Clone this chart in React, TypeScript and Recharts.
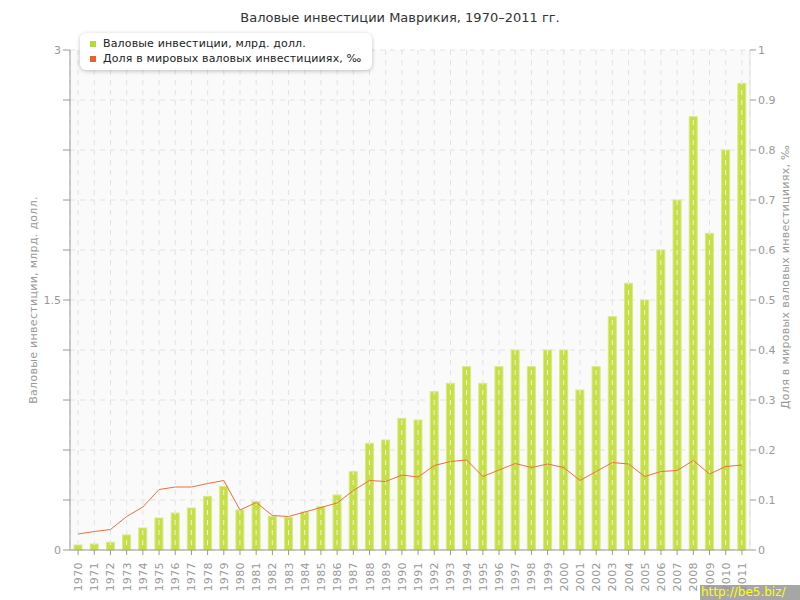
import {
  Bar,
  CartesianGrid,
  ComposedChart,
  Line,
  XAxis,
  YAxis,
} from "recharts";

const YEARS = [
  1970, 1971, 1972, 1973, 1974, 1975, 1976, 1977, 1978, 1979,
  1980, 1981, 1982, 1983, 1984, 1985, 1986, 1987, 1988, 1989,
  1990, 1991, 1992, 1993, 1994, 1995, 1996, 1997, 1998, 1999,
  2000, 2001, 2002, 2003, 2004, 2005, 2006, 2007, 2008, 2009,
  2010, 2011,
];

// валовые инвестиции, млрд. долл.
const INVESTMENT = [
  0.03, 0.036, 0.046, 0.09, 0.132, 0.192, 0.222, 0.252, 0.322, 0.382,
  0.24, 0.29, 0.202, 0.196, 0.228, 0.26, 0.33, 0.47, 0.64, 0.66,
  0.79, 0.78, 0.95, 1.0, 1.1, 1.0, 1.1, 1.2, 1.1, 1.2,
  1.2, 0.96, 1.1, 1.4, 1.6, 1.5, 1.8, 2.1, 2.6, 1.9,
  2.4, 2.8,
];

// доля в мировых валовых инвестициях, ‰
const WORLD_SHARE = [
  0.032, 0.037, 0.041, 0.067, 0.086, 0.121, 0.126, 0.126, 0.133, 0.139,
  0.08, 0.095, 0.069, 0.067, 0.076, 0.085, 0.094, 0.119, 0.139, 0.137,
  0.15, 0.146, 0.169, 0.177, 0.18, 0.147, 0.16, 0.173, 0.165, 0.172,
  0.165, 0.139, 0.157, 0.175, 0.172, 0.147, 0.157, 0.159, 0.179, 0.152,
  0.167, 0.17,
];

const LEFT_TICKS = [0, 0.3, 0.6, 0.9, 1.2, 1.5, 1.8, 2.1, 2.4, 2.7, 3];
const LEFT_LABELED = [0, 1.5, 3];
const RIGHT_TICKS = [0, 0.1, 0.2, 0.3, 0.4, 0.5, 0.6, 0.7, 0.8, 0.9, 1];

const TITLE = "Валовые инвестиции Маврикия, 1970–2011 гг.";
const BAR_NAME = "Валовые инвестиции, млрд. долл.";
const LINE_NAME = "Доля в мировых валовых инвестицииях, ‰";
const LEFT_TITLE = "Валовые инвестиции, млрд. долл.";
const RIGHT_TITLE = "Доля в мировых валовых инвестицииях, ‰";

const FONT = "'DejaVu Sans', Verdana, sans-serif";
const BAR_COLOR = "#c5df45";
const LINE_COLOR = "#e9713d";
const AXIS_COLOR = "#999";

const data = YEARS.map((year, i) => ({
  year: String(year),
  invest: INVESTMENT[i],
  share: WORLD_SHARE[i],
}));

// столбик + пунктир сетки поверх него
function BarShape(props: any) {
  const { x, y, width, height, background } = props;
  if (!height || height <= 0) return null;
  const top = background ? background.y : 50;
  const cx = x + width / 2;
  return (
    <g>
      <rect x={x} y={y} width={width} height={height} fill={BAR_COLOR} stroke="#d7ea86" strokeWidth={1} />
      <line
        x1={cx}
        x2={cx}
        y1={y}
        y2={y + height}
        stroke="#eef4d2"
        strokeWidth={1}
        strokeDasharray="5 5"
        strokeDashoffset={y - top}
      />
    </g>
  );
}

function YearTick(props: any) {
  const { x, y, payload } = props;
  return (
    <text
      transform={`translate(${x + 4}, ${y + 5}) rotate(-90)`}
      textAnchor="end"
      fontSize={11}
      fontFamily={FONT}
      letterSpacing={0.4}
      fill={AXIS_COLOR}
    >
      {payload.value}
    </text>
  );
}

function LegendBox() {
  const items = [
    { name: BAR_NAME, color: "#b5d935" },
    { name: LINE_NAME, color: "#e8602c" },
  ];
  return (
    <div
      style={{
        position: "absolute",
        left: 80,
        top: 33,
        background: "#fff",
        borderRadius: 6,
        boxShadow: "0 1px 4px rgba(0,0,0,0.25)",
        padding: "3px 10px 4px 10px",
        fontFamily: FONT,
        fontSize: 11,
        letterSpacing: 0.15,
        color: "#222",
        lineHeight: "15px",
      }}
    >
      {items.map((it) => (
        <div key={it.name} style={{ display: "flex", alignItems: "center" }}>
          <span
            style={{ width: 6, height: 6, background: it.color, marginRight: 7, display: "inline-block" }}
          />
          {it.name}
        </div>
      ))}
    </div>
  );
}

export default function App() {
  return (
    <div style={{ position: "absolute", left: 0, top: 0, width: 800, height: 600, background: "#fff" }}>
      <ComposedChart
        width={800}
        height={600}
        data={data}
        margin={{ top: 50, right: 0, bottom: 0, left: 0 }}
        barCategoryGap={0}
      >
        <CartesianGrid
          yAxisId="right"
          fill="#fafafa"
          stroke="#e2e2e2"
          strokeDasharray="5 5"
        />
        <XAxis
          dataKey="year"
          interval={0}
          height={50}
          tick={<YearTick />}
          tickSize={5}
          tickLine={{ stroke: AXIS_COLOR }}
          axisLine={{ stroke: AXIS_COLOR }}
        />
        <YAxis
          yAxisId="left"
          width={70}
          domain={[0, 3]}
          ticks={LEFT_TICKS}
          tickFormatter={(v: number) => (LEFT_LABELED.includes(v) ? String(v) : "")}
          tickSize={7}
          tick={{ fontSize: 11, fontFamily: FONT, fill: AXIS_COLOR }}
          tickLine={{ stroke: AXIS_COLOR }}
          axisLine={{ stroke: AXIS_COLOR }}
        />
        <YAxis
          yAxisId="right"
          orientation="right"
          width={50}
          domain={[0, 1]}
          ticks={RIGHT_TICKS}
          tickFormatter={(v: number) => String(v)}
          tickSize={6}
          tick={{ fontSize: 11, fontFamily: FONT, fill: AXIS_COLOR }}
          tickLine={{ stroke: AXIS_COLOR }}
          axisLine={{ stroke: "#e0e0e0" }}
        />
        <Bar
          yAxisId="left"
          dataKey="invest"
          name={BAR_NAME}
          barSize={8}
          shape={<BarShape />}
          isAnimationActive={false}
        />
        <Line
          yAxisId="right"
          dataKey="share"
          name={LINE_NAME}
          type="linear"
          stroke={LINE_COLOR}
          strokeWidth={1}
          dot={false}
          activeDot={false}
          isAnimationActive={false}
        />
      </ComposedChart>

      <svg
        width={800}
        height={600}
        style={{ position: "absolute", left: 0, top: 0, pointerEvents: "none" }}
      >
        <text x={400} y={22} textAnchor="middle" fontSize={13} fontFamily={FONT} fill="#333">
          {TITLE}
        </text>
        <text
          transform="translate(37, 300) rotate(-90)"
          textAnchor="middle"
          fontSize={11}
          fontFamily={FONT}
          letterSpacing={0.3}
          fill={AXIS_COLOR}
        >
          {LEFT_TITLE}
        </text>
        <text
          transform="translate(789, 277) rotate(-90)"
          textAnchor="middle"
          fontSize={11}
          fontFamily={FONT}
          letterSpacing={0.3}
          fill={AXIS_COLOR}
        >
          {RIGHT_TITLE}
        </text>
      </svg>

      <LegendBox />

      <div
        style={{
          position: "absolute",
          left: 700,
          top: 585,
          width: 100,
          height: 15,
          background: "rgba(150,150,150,0.85)",
          color: "#ffff00",
          fontFamily: FONT,
          fontSize: 12,
          lineHeight: "15px",
          paddingLeft: 1,
          boxSizing: "border-box",
        }}
      >
        http://be5.biz/
      </div>
    </div>
  );
}
